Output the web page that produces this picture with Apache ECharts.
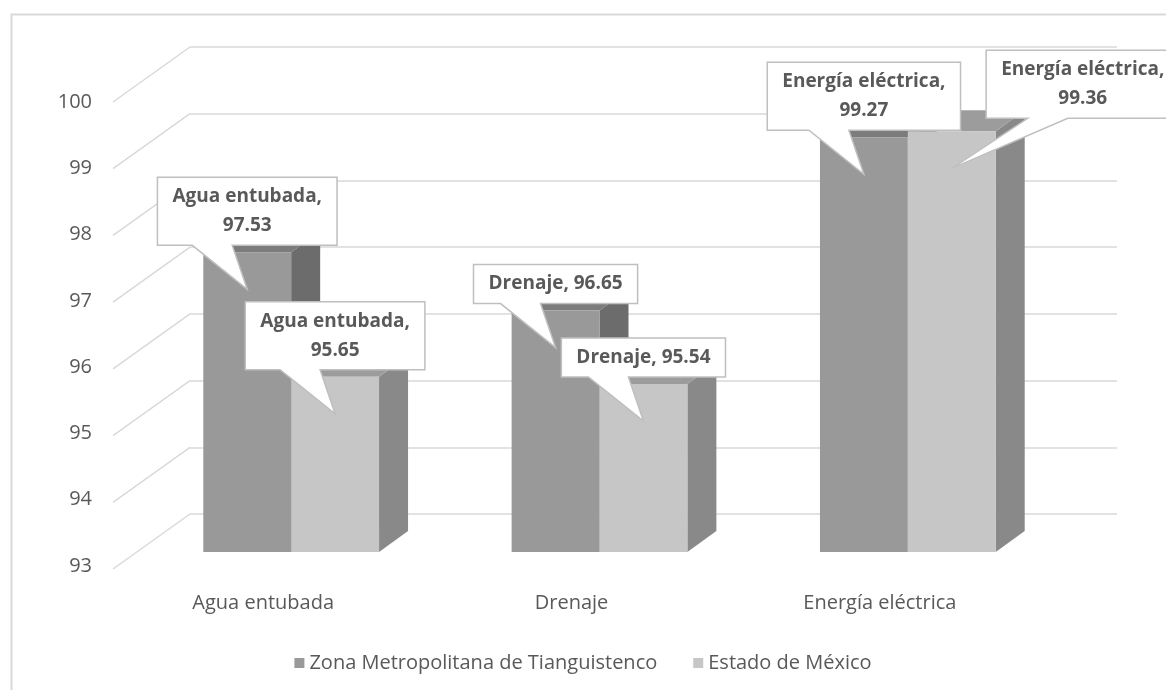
<!DOCTYPE html>
<html>
<head>
<meta charset="utf-8">
<script src="https://cdn.jsdelivr.net/npm/echarts@6/dist/echarts.min.js"></script>
<style>
html,body{margin:0;padding:0;background:#fff;}
#main{width:1166px;height:690px;}
</style>
</head>
<body>
<div id="main"></div>
<script>
// datos
var categories = ['Agua entubada', 'Drenaje', 'Energía eléctrica'];
var seriesNames = ['Zona Metropolitana de Tianguistenco', 'Estado de México'];
var zonaMetro = [97.53, 96.65, 99.27];
var estadoMex = [95.65, 95.54, 99.36];
var yTicks = [93, 94, 95, 96, 97, 98, 99, 100];

var FONT = 'Open Sans';
var TXT = '#595959';
var GRID_LINE = '#d9d9d9';
var DX = 29, DY = -21;      // profundidad de las barras 3d
var faces = [
    {front: '#999999', side: '#6c6c6c', top: '#7c7c7c'},
    {front: '#c6c6c6', side: '#898989', top: '#9c9c9c'}
];
// desplazamiento de las etiquetas [serie][categoria]
var calloutShift = [
    [[0, 0], [0, 0], [0, 0]],
    [[0, 0], [0, 0], [131, -6]]
];

var ctx = document.createElement('canvas').getContext('2d');
ctx.font = 'bold 19px ' + FONT;

var barItem = function (s) {
    return function (params, api) {
        var cat = api.value(0), val = api.value(1);
        var top = api.coord([cat, val]);
        var base = api.coord([cat, 93]);
        var w = api.size([1, 0])[0] * 0.285;
        var x0 = s === 0 ? top[0] - w : top[0];
        var x1 = x0 + w;
        var f = faces[s];
        return {
            type: 'group',
            children: [
                {type: 'polygon', shape: {points: [[x1, top[1]], [x1 + DX, top[1] + DY], [x1 + DX, base[1] + DY], [x1, base[1]]]}, style: {fill: f.side}},
                {type: 'polygon', shape: {points: [[x0, top[1]], [x0 + DX, top[1] + DY], [x1 + DX, top[1] + DY], [x1, top[1]]]}, style: {fill: f.top}},
                {type: 'rect', shape: {x: x0, y: top[1], width: w, height: base[1] - top[1]}, style: {fill: f.front}}
            ]
        };
    };
};

var calloutItem = function (params, api) {
    var cat = api.value(0), val = api.value(1), s = api.value(2);
    var top = api.coord([cat, val]);
    var w = api.size([1, 0])[0] * 0.285;
    var cx = s === 0 ? top[0] - w / 2 : top[0] + w / 2;
    var name = categories[cat];
    var lines = name.length > 8 ? [name + ',', val.toFixed(2)] : [name + ', ' + val.toFixed(2)];
    var tw = 0;
    lines.forEach(function (l) { tw = Math.max(tw, ctx.measureText(l).width); });
    var bw = tw + 30, bh = lines.length * 29 + 10;
    var sh = calloutShift[s][cat];
    var bx = cx + sh[0], bottom = top[1] - 7 + sh[1];
    var left = bx - bw / 2, right = bx + bw / 2, up = bottom - bh;
    var tip = [cx, top[1] + 37];
    return {
        type: 'group',
        children: [
            {type: 'polygon', shape: {points: [[left, up], [right, up], [right, bottom], [bx - 15, bottom], tip, [bx - 55, bottom], [left, bottom]]},
             style: {fill: '#fff', stroke: '#bfbfbf', lineWidth: 1.5}},
            {type: 'text', style: {text: lines.join('\n'), x: bx, y: up + bh / 2, align: 'center', verticalAlign: 'middle',
             font: 'bold 19px ' + FONT, fill: TXT, lineHeight: 29}}
        ]
    };
};

var wallItem = function (params, api) {
    var p = api.coord([0, api.value(1)]);
    var x = params.coordSys.x;
    return {type: 'polyline', shape: {points: [[x - 77, p[1] + 55], [x, p[1]]]}, style: {stroke: GRID_LINE, lineWidth: 1.5, fill: null}};
};

var zData = [], eData = [], cData = [];
categories.forEach(function (c, i) {
    zData.push([i, zonaMetro[i]]);
    eData.push([i, estadoMex[i]]);
    cData.push([i, zonaMetro[i], 0]);
    cData.push([i, estadoMex[i], 1]);
});

var myChart = echarts.init(document.getElementById('main'));

var hidden = {show: false};
var options = {
    animation: false,
    textStyle: {fontFamily: FONT},
    grid: [
        {left: 137, right: 104, top: 89, bottom: 138},
        {left: 190, right: 49, top: 47, bottom: 176},
        {left: 109, right: 132, top: 102, bottom: 124}
    ],
    xAxis: [
        {type: 'category', gridIndex: 0, data: categories, axisLine: hidden, axisTick: hidden, axisLabel: hidden},
        {type: 'category', gridIndex: 1, data: categories, axisLine: hidden, axisTick: hidden, axisLabel: hidden},
        {type: 'category', gridIndex: 2, data: categories, axisLine: hidden, axisTick: hidden,
         axisLabel: {fontSize: 20, color: TXT, margin: 27}}
    ],
    yAxis: [
        {type: 'value', gridIndex: 0, min: 93, max: 100, interval: 1, axisLine: hidden, axisTick: hidden, axisLabel: hidden, splitLine: hidden},
        {type: 'value', gridIndex: 1, min: 93, max: 100, interval: 1, axisLine: hidden, axisTick: hidden, axisLabel: hidden,
         splitLine: {show: true, lineStyle: {color: GRID_LINE, width: 1.5}}},
        {type: 'value', gridIndex: 2, min: 93, max: 100, interval: 1, axisLine: hidden, axisTick: hidden, splitLine: hidden,
         axisLabel: {fontSize: 20, color: TXT, margin: 17}}
    ],
    legend: {
        data: seriesNames,
        top: 648,
        left: 'center',
        icon: 'rect',
        itemWidth: 10,
        itemHeight: 10,
        itemGap: 36,
        textStyle: {fontSize: 20, color: TXT, fontFamily: FONT}
    },
    graphic: [
        {type: 'rect', left: 9, top: 12, shape: {width: 1200, height: 700}, style: {fill: null, stroke: GRID_LINE, lineWidth: 2}, silent: true}
    ],
    series: [
        {type: 'custom', xAxisIndex: 1, yAxisIndex: 1, data: yTicks.map(function (v) { return [0, v]; }), renderItem: wallItem, silent: true, z: 1},
        {name: seriesNames[0], type: 'custom', xAxisIndex: 0, yAxisIndex: 0, data: zData, renderItem: barItem(0), itemStyle: {color: faces[0].front}, z: 2},
        {name: seriesNames[1], type: 'custom', xAxisIndex: 0, yAxisIndex: 0, data: eData, renderItem: barItem(1), itemStyle: {color: faces[1].front}, z: 2},
        {type: 'custom', xAxisIndex: 0, yAxisIndex: 0, data: cData, renderItem: calloutItem, silent: true, z: 5, clip: false}
    ]
};

myChart.setOption(options);
</script>
</body>
</html>
